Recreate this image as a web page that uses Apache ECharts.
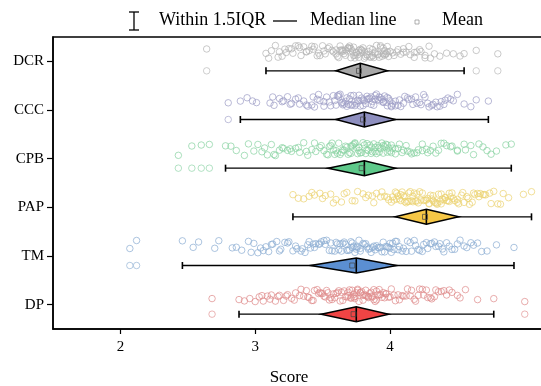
<!DOCTYPE html>
<html>
<head>
<meta charset="utf-8">
<script src="https://cdn.jsdelivr.net/npm/echarts@6/dist/echarts.min.js"></script>
<style>
  html, body { margin: 0; padding: 0; background: #fff; }
  #main { width: 541px; height: 386px; }
</style>
</head>
<body>
<div id="main"></div>
<script>
// categories, bottom to top
var categories = ['DP', 'TM', 'PAP', 'CPB', 'CCC', 'DCR'];
var xTicks = [2, 3, 4];

// box stats (same order as categories)
var whiskerLow  = [2.88, 2.46, 3.28, 2.78, 2.89, 3.08];
var quartile1   = [3.49, 3.41, 4.04, 3.54, 3.60, 3.60];
var medians     = [3.75, 3.75, 4.27, 3.81, 3.81, 3.78];
var quartile3   = [3.99, 4.05, 4.51, 4.04, 4.04, 3.98];
var whiskerHigh = [4.77, 4.92, 5.05, 4.90, 4.73, 4.55];
var means       = [3.73, 3.72, 4.26, 3.79, 3.80, 3.77];

var outliers = [
  [2.68, 5.00],
  [2.07, 2.12],
  [],
  [2.43, 2.53, 2.60, 2.66],
  [2.80],
  [2.64, 4.64, 4.80]
];

// individual scores (non-outlier points)
var scoresDP = [2.88, 2.92, 2.96, 3.00, 3.03, 3.06, 3.09, 3.12, 3.15, 3.18, 3.21, 3.24, 3.27, 3.30, 3.33, 3.36, 3.38, 3.40, 3.42, 3.44, 3.46, 3.48,
  3.49, 3.50, 3.52, 3.53, 3.55, 3.56, 3.58, 3.59, 3.61, 3.62, 3.64, 3.65, 3.67, 3.68, 3.69, 3.70, 3.71, 3.72, 3.73, 3.74, 3.74, 3.75,
  3.76, 3.77, 3.78, 3.79, 3.80, 3.81, 3.82, 3.83, 3.84, 3.85, 3.86, 3.87, 3.88, 3.89, 3.90, 3.91, 3.92, 3.93, 3.95, 3.96, 3.97, 3.99,
  4.01, 4.04, 4.07, 4.10, 4.13, 4.16, 4.19, 4.22, 4.25, 4.28, 4.31, 4.34, 4.38, 4.42, 4.46, 4.52, 4.65, 4.77,
  3.05, 3.11, 3.17, 3.23, 3.29, 3.34, 3.39, 3.43, 3.47, 3.51, 3.54, 3.57, 3.60, 3.63, 3.66, 3.69, 3.71, 3.73, 3.76, 3.78, 3.80, 3.82,
  3.84, 3.86, 3.88, 3.90, 3.92, 3.94, 3.97, 4.00, 4.03, 4.06, 4.09, 4.12, 4.15, 4.18, 4.21, 4.24, 4.27, 4.30, 4.33, 4.36, 4.40, 4.44, 4.50, 4.56];
var scoresTM = [2.46, 2.54, 2.58, 2.70, 2.73, 2.83, 2.86, 2.90, 2.95, 2.99, 3.02, 3.06, 3.10, 3.13, 3.16, 3.19, 3.22, 3.25, 3.28, 3.31, 3.34, 3.37, 3.39,
  3.41, 3.43, 3.45, 3.47, 3.49, 3.51, 3.53, 3.55, 3.57, 3.59, 3.61, 3.62, 3.64, 3.65, 3.67, 3.68, 3.70, 3.71, 3.72, 3.73, 3.74, 3.75,
  3.76, 3.77, 3.78, 3.80, 3.81, 3.83, 3.84, 3.86, 3.87, 3.89, 3.90, 3.92, 3.93, 3.95, 3.96, 3.98, 3.99, 4.00, 4.01, 4.02, 4.04, 4.05,
  4.07, 4.10, 4.13, 4.16, 4.19, 4.22, 4.25, 4.28, 4.31, 4.34, 4.37, 4.40, 4.44, 4.48, 4.52, 4.57, 4.62, 4.68, 4.72, 4.79, 4.92,
  2.97, 3.04, 3.08, 3.12, 3.18, 3.24, 3.30, 3.35, 3.40, 3.44, 3.48, 3.52, 3.56, 3.60, 3.63, 3.66, 3.69, 3.72, 3.75, 3.78, 3.82, 3.85,
  3.88, 3.91, 3.94, 3.97, 4.00, 4.03, 4.06, 4.09, 4.12, 4.15, 4.18, 4.21, 4.24, 4.27, 4.30, 4.33, 4.36, 4.39, 4.42, 4.46, 4.50, 4.55, 4.60, 4.65];
var scoresPAP = [3.28, 3.32, 3.36, 3.40, 3.44, 3.48, 3.52, 3.56, 3.60, 3.64, 3.68, 3.72, 3.76, 3.80, 3.84, 3.87, 3.90, 3.93, 3.96, 3.99, 4.01, 4.03,
  4.04, 4.05, 4.06, 4.07, 4.08, 4.09, 4.10, 4.11, 4.12, 4.13, 4.14, 4.15, 4.16, 4.17, 4.18, 4.19, 4.20, 4.21, 4.22, 4.24, 4.25, 4.27,
  4.28, 4.29, 4.30, 4.31, 4.32, 4.33, 4.34, 4.35, 4.36, 4.37, 4.38, 4.39, 4.40, 4.41, 4.42, 4.43, 4.44, 4.45, 4.46, 4.48, 4.50, 4.51,
  4.53, 4.55, 4.57, 4.59, 4.61, 4.63, 4.65, 4.67, 4.69, 4.71, 4.74, 4.77, 4.80, 4.84, 4.99, 5.05,
  3.42, 3.50, 3.58, 3.66, 3.74, 3.82, 3.88, 3.94, 3.98, 4.02, 4.05, 4.08, 4.11, 4.14, 4.17, 4.20, 4.23, 4.26, 4.29, 4.32, 4.35, 4.38,
  4.41, 4.44, 4.47, 4.50, 4.54, 4.58, 4.62, 4.66, 4.70, 4.75, 4.82, 4.88];
var scoresCPB = [2.78, 2.82, 2.86, 2.92, 2.95, 3.02, 3.05, 3.09, 3.12, 3.15, 3.18, 3.21, 3.24, 3.27, 3.30, 3.33, 3.36, 3.39, 3.42, 3.45, 3.48, 3.51,
  3.54, 3.55, 3.57, 3.58, 3.60, 3.61, 3.63, 3.64, 3.66, 3.67, 3.69, 3.70, 3.71, 3.72, 3.73, 3.74, 3.75, 3.76, 3.77, 3.78, 3.79, 3.81,
  3.82, 3.83, 3.84, 3.85, 3.86, 3.87, 3.88, 3.89, 3.90, 3.91, 3.92, 3.93, 3.94, 3.95, 3.96, 3.97, 3.98, 3.99, 4.00, 4.01, 4.02, 4.04,
  4.06, 4.09, 4.12, 4.15, 4.18, 4.21, 4.24, 4.27, 4.30, 4.34, 4.38, 4.42, 4.46, 4.50, 4.55, 4.60, 4.66, 4.72, 4.79, 4.86, 4.90,
  2.99, 3.07, 3.14, 3.20, 3.26, 3.32, 3.38, 3.44, 3.49, 3.53, 3.56, 3.59, 3.62, 3.65, 3.68, 3.71, 3.74, 3.77, 3.80, 3.83, 3.86, 3.89,
  3.92, 3.95, 3.98, 4.01, 4.04, 4.07, 4.10, 4.13, 4.16, 4.20, 4.24, 4.28, 4.32, 4.36, 4.40, 4.45, 4.50, 4.56, 4.62, 4.69, 4.75];
var scoresCCC = [2.89, 2.94, 2.98, 3.01, 3.11, 3.14, 3.18, 3.21, 3.24, 3.27, 3.30, 3.33, 3.36, 3.39, 3.42, 3.44, 3.46, 3.48, 3.51, 3.53, 3.56, 3.58,
  3.60, 3.61, 3.62, 3.63, 3.64, 3.65, 3.66, 3.67, 3.68, 3.69, 3.70, 3.71, 3.72, 3.73, 3.74, 3.75, 3.76, 3.77, 3.78, 3.79, 3.80, 3.81,
  3.82, 3.83, 3.84, 3.85, 3.86, 3.87, 3.88, 3.89, 3.90, 3.91, 3.92, 3.93, 3.94, 3.95, 3.96, 3.97, 3.98, 3.99, 4.00, 4.01, 4.02, 4.04,
  4.06, 4.08, 4.11, 4.14, 4.17, 4.20, 4.23, 4.26, 4.29, 4.32, 4.35, 4.38, 4.41, 4.45, 4.50, 4.55, 4.60, 4.64, 4.73,
  3.13, 3.20, 3.26, 3.32, 3.38, 3.43, 3.47, 3.51, 3.55, 3.59, 3.62, 3.65, 3.68, 3.71, 3.74, 3.77, 3.80, 3.83, 3.86, 3.89,
  3.92, 3.95, 3.98, 4.01, 4.04, 4.07, 4.10, 4.13, 4.16, 4.19, 4.22, 4.25, 4.28, 4.31, 4.34, 4.37, 4.40, 4.43, 4.47];
var scoresDCR = [3.08, 3.12, 3.15, 3.18, 3.20, 3.23, 3.25, 3.27, 3.30, 3.32, 3.34, 3.36, 3.38, 3.40, 3.42, 3.44, 3.46, 3.48, 3.50, 3.52, 3.55, 3.58,
  3.60, 3.61, 3.62, 3.63, 3.64, 3.65, 3.66, 3.67, 3.68, 3.69, 3.70, 3.70, 3.71, 3.72, 3.73, 3.74, 3.74, 3.75, 3.76, 3.77, 3.78, 3.78,
  3.79, 3.80, 3.81, 3.82, 3.83, 3.84, 3.85, 3.86, 3.87, 3.88, 3.89, 3.90, 3.91, 3.92, 3.93, 3.94, 3.95, 3.96, 3.96, 3.97, 3.98, 3.98,
  4.00, 4.03, 4.05, 4.08, 4.10, 4.12, 4.15, 4.18, 4.20, 4.23, 4.26, 4.29, 4.33, 4.37, 4.42, 4.47, 4.52, 4.55,
  3.10, 3.17, 3.22, 3.28, 3.33, 3.38, 3.43, 3.47, 3.51, 3.54, 3.57, 3.60, 3.63, 3.65, 3.67, 3.69, 3.71, 3.73, 3.75, 3.77,
  3.79, 3.81, 3.83, 3.85, 3.87, 3.89, 3.91, 3.93, 3.95, 3.97, 3.99, 4.02, 4.06, 4.10, 4.14, 4.18, 4.22, 4.26, 4.30];
var scores = [scoresDP, scoresTM, scoresPAP, scoresCPB, scoresCCC, scoresDCR];

var pointColors = ['#df8c8c', '#8badd2', '#ebd271', '#88d2a2', '#9d9dc6', '#b4b4b4'];
var fillColors  = ['#f04444', '#5b8fd2', '#f6c746', '#5ec98a', '#8e8fbf', '#a8a8a8'];

var FONT = 'Liberation Serif, Times New Roman, serif';
var ROW = 9.5; // points row sits above the tick, box row below

var chart = echarts.init(document.getElementById('main'));

function valueAxis(idx, show) {
  return {
    type: 'value', gridIndex: idx, min: 1.5, max: 5.165,
    show: show,
    splitLine: { show: false },
    axisLine: { show: show, onZero: false, lineStyle: { color: '#000', width: 1.5 } },
    axisTick: { show: show, customValues: xTicks, length: 5, lineStyle: { color: '#000', width: 1.2 } },
    axisLabel: { show: show, customValues: xTicks, color: '#000', fontFamily: FONT, fontSize: 15, margin: 11 },
    name: show ? 'Score' : '', nameLocation: 'middle', nameGap: 40,
    nameTextStyle: { color: '#000', fontFamily: FONT, fontSize: 17, padding: [0, 22, 0, 0] }
  };
}
function catAxis(idx, show, jitter) {
  var a = {
    type: 'category', gridIndex: idx, data: categories, show: show,
    axisLine: { show: show, lineStyle: { color: '#000', width: 1.5 } },
    axisTick: { show: show, alignWithLabel: true, length: 6, lineStyle: { color: '#000', width: 1.2 } },
    axisLabel: { show: show, color: '#000', fontFamily: FONT, fontSize: 15, margin: 9 },
    splitLine: { show: false }
  };
  if (jitter) { a.jitter = 13; a.jitterOverlap = true; }
  return a;
}

var series = [];
for (var i = 0; i < categories.length; i++) {
  var pts = [];
  var all = scores[i].concat(outliers[i]);
  for (var k = 0; k < all.length; k++) pts.push([all[k], categories[i]]);
  series.push({
    type: 'scatter', xAxisIndex: 1, yAxisIndex: 1, data: pts,
    symbol: 'circle', symbolSize: 6.5, silent: true,
    itemStyle: { color: 'rgba(255,255,255,0)', borderColor: pointColors[i], borderWidth: 0.8, opacity: 0.9 }
  });
  var outPts = [];
  for (var m = 0; m < outliers[i].length; m++) outPts.push([outliers[i][m], categories[i]]);
  series.push({
    type: 'scatter', xAxisIndex: 2, yAxisIndex: 2, data: outPts,
    symbol: 'circle', symbolSize: 6.5, silent: true,
    itemStyle: { color: 'rgba(255,255,255,0)', borderColor: pointColors[i], borderWidth: 0.8 }
  });
}

var boxData = [];
for (var b = 0; b < categories.length; b++) {
  boxData.push([b, whiskerLow[b], quartile1[b], medians[b], quartile3[b], whiskerHigh[b], means[b]]);
}
series.push({
  type: 'custom', xAxisIndex: 0, yAxisIndex: 0, data: boxData, silent: true, z: 5,
  encode: { x: [1, 2, 3, 4, 5, 6], y: 0 },
  renderItem: function (params, api) {
    var c = api.value(0);
    var lo = api.coord([api.value(1), c]);
    var q1 = api.coord([api.value(2), c]);
    var md = api.coord([api.value(3), c]);
    var q3 = api.coord([api.value(4), c]);
    var hi = api.coord([api.value(5), c]);
    var mn = api.coord([api.value(6), c]);
    var y = lo[1] + ROW, h = 7.5, cap = 3.5;
    return {
      type: 'group',
      children: [
        { type: 'line', shape: { x1: lo[0], y1: y, x2: hi[0], y2: y }, style: { stroke: '#000', lineWidth: 1.4 } },
        { type: 'line', shape: { x1: lo[0], y1: y - cap, x2: lo[0], y2: y + cap }, style: { stroke: '#000', lineWidth: 1.6 } },
        { type: 'line', shape: { x1: hi[0], y1: y - cap, x2: hi[0], y2: y + cap }, style: { stroke: '#000', lineWidth: 1.6 } },
        { type: 'polygon', shape: { points: [[q1[0], y], [md[0], y - h], [q3[0], y], [md[0], y + h]] },
          style: { fill: fillColors[c], stroke: '#000', lineWidth: 1.5 } },
        { type: 'line', shape: { x1: md[0], y1: y - h, x2: md[0], y2: y + h }, style: { stroke: '#000', lineWidth: 1.6 } },
        { type: 'rect', shape: { x: mn[0] - 2.5, y: y - 2.5, width: 5, height: 5 },
          style: { fill: 'rgba(255,255,255,0)', stroke: '#444', lineWidth: 0.7 } }
      ]
    };
  }
});

var option = {
  backgroundColor: '#fff',
  animation: false,
  grid: [
    { left: 53, right: -6, top: 37, bottom: 57, outerBoundsMode: 'none', show: true, borderColor: '#000', borderWidth: 1.5, backgroundColor: 'transparent' },
    { left: 53, right: -6, top: 37 - ROW, bottom: 57 + ROW, outerBoundsMode: 'none' },
    { left: 53, right: -6, top: 37 + ROW, bottom: 57 - ROW, outerBoundsMode: 'none' }
  ],
  xAxis: [valueAxis(0, true), valueAxis(1, false), valueAxis(2, false)],
  yAxis: [catAxis(0, true, false), catAxis(1, false, true), catAxis(2, false, false)],
  graphic: [
    // legend: whisker icon
    { type: 'line', shape: { x1: 129, y1: 12, x2: 139, y2: 12 }, style: { stroke: '#000', lineWidth: 1.3 } },
    { type: 'line', shape: { x1: 134, y1: 12, x2: 134, y2: 30 }, style: { stroke: '#000', lineWidth: 1.3 } },
    { type: 'line', shape: { x1: 129, y1: 30, x2: 139, y2: 30 }, style: { stroke: '#000', lineWidth: 1.3 } },
    { type: 'text', left: 159, top: 11, style: { text: 'Within 1.5IQR', fill: '#000', font: '18px ' + FONT } },
    { type: 'line', shape: { x1: 273, y1: 21, x2: 297, y2: 21 }, style: { stroke: '#000', lineWidth: 1.3 } },
    { type: 'text', left: 310, top: 11, style: { text: 'Median line', fill: '#000', font: '18px ' + FONT } },
    { type: 'rect', shape: { x: 415, y: 20, width: 4, height: 4 }, style: { fill: 'none', stroke: '#999', lineWidth: 0.8 } },
    { type: 'text', left: 442, top: 11, style: { text: 'Mean', fill: '#000', font: '18px ' + FONT } }
  ],
  series: series
};
chart.setOption(option);
</script>
</body>
</html>
